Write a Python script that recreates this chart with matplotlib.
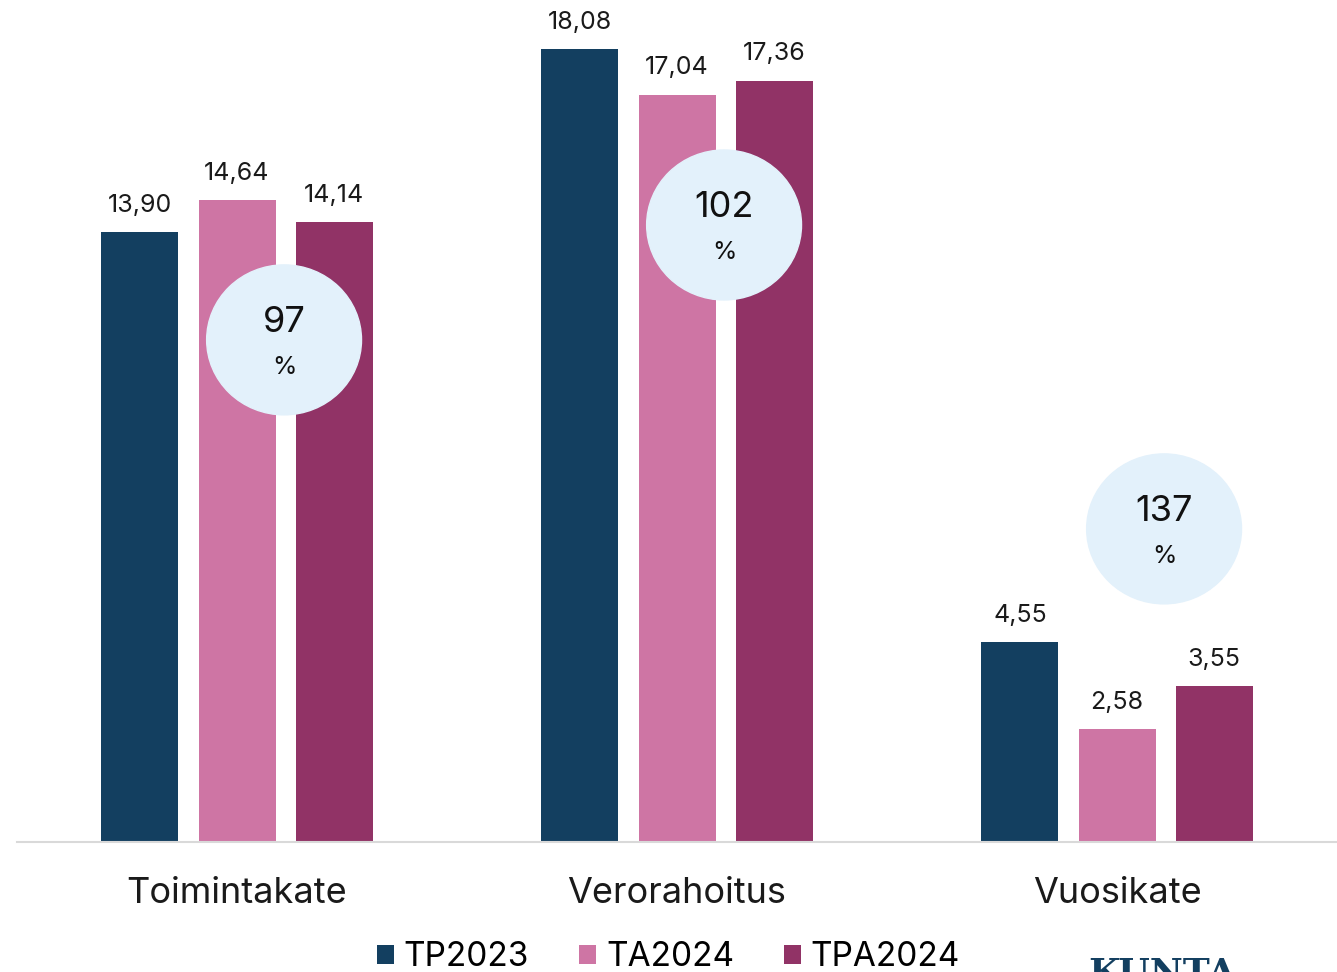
import matplotlib.pyplot as plt
import numpy as np
from matplotlib.patches import Ellipse

plt.rcParams['font.family'] = ['Inter', 'DejaVu Sans']

categories = ["Toimintakate", "Verorahoitus", "Vuosikate"]
series = ["TP2023", "TA2024", "TPA2024"]
tp2023 = [13.90, 18.08, 4.55]
ta2024 = [14.64, 17.04, 2.58]
tpa2024 = [14.14, 17.36, 3.55]
percent = ["97", "102", "137"]

colors = ["#133F60", "#CE75A4", "#913366"]
bubble_y = [11.45, 14.07, 7.14]  # bubble centre heights

fig = plt.figure(figsize=(13.37, 9.72), dpi=100)
ax = fig.add_axes([17 / 1337, 130 / 972, 1320 / 1337, 842 / 972])

x = np.arange(len(categories))
width = 0.175
step = 0.2205
for i, (name, vals) in enumerate(zip(series, [tp2023, ta2024, tpa2024])):
    pos = x + (i - 1) * step
    bars = ax.bar(pos, vals, width, color=colors[i], label=name, zorder=2)
    for b, v in zip(bars, vals):
        ax.annotate(f"{v:.2f}".replace(".", ","), (b.get_x() + b.get_width() / 2, v),
                    xytext=(0, 11), textcoords="offset points",
                    ha="center", va="bottom", fontsize=18, color="#1a1a1a")

# percentage bubbles
for xi, yi, p in zip(x, bubble_y, percent):
    cx = xi + 0.107
    ax.add_patch(Ellipse((cx, yi), 0.352, 3.42, color="#E3F1FB", zorder=3))
    ax.text(cx, yi + 0.4, p, ha="center", va="center", fontsize=26, color="#111111", zorder=4)
    ax.text(cx, yi - 0.62, "%", ha="center", va="center", fontsize=18, color="#111111", zorder=4)

ax.set_xlim(-0.5, 2.5)
ax.set_ylim(0, 19.2)
ax.set_yticks([])
ax.set_xticks(x)
ax.set_xticklabels(categories, fontsize=26, color="#1a1a1a")
ax.tick_params(axis="x", length=0, pad=25)
for s in ["top", "right", "left"]:
    ax.spines[s].set_visible(False)
ax.spines["bottom"].set_color("#D9D9D9")
ax.spines["bottom"].set_linewidth(1.5)

fig.legend(loc="upper center", bbox_to_anchor=(0.5, 44 / 972), ncol=3, frameon=False,
           fontsize=24, handlelength=0.5, handleheight=0.5, handletextpad=0.3,
           columnspacing=1.5, borderaxespad=0)

fig.text(1162 / 1337, 1 - 956 / 972, "KUNTA", ha="center", va="top", fontsize=26,
         family="DejaVu Serif", weight="bold", color="#133F60")

plt.savefig("out.png", dpi=100)
